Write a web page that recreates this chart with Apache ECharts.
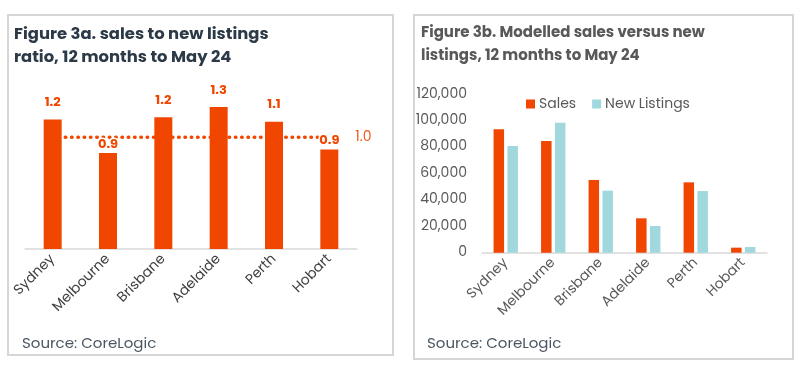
<!DOCTYPE html>
<html>
<head>
<meta charset="utf-8">
<script src="https://cdn.jsdelivr.net/npm/echarts@6/dist/echarts.min.js"></script>
<style>
  html, body { margin: 0; padding: 0; background: #ffffff; }
  #chart { width: 800px; height: 371px; }
</style>
</head>
<body>
<div id="chart"></div>
<script>
// ---- Data ----
const cities = ['Sydney', 'Melbourne', 'Brisbane', 'Adelaide', 'Perth', 'Hobart'];
const ratio = [1.16, 0.86, 1.18, 1.27, 1.14, 0.89];
const parity = [1.0, 1.0, 1.0, 1.0, 1.0, 1.0];
const sales = [93300, 84400, 55000, 26000, 53200, 3800];
const newListings = [80700, 98300, 46900, 20200, 46600, 4300];
const yTicksRight = [0, 20000, 40000, 60000, 80000, 100000, 120000];

const titleA = 'Figure 3a. sales to new listings\nratio, 12 months to May 24';
const titleB = 'Figure 3b. Modelled sales versus new\nlistings, 12 months to May 24';
const sourceText = 'Source: CoreLogic';

// ---- Styles ----
const FONT = 'Poppins, "Open Sans", sans-serif';
const ORANGE = '#F04600';
const TEAL = '#A0D8DE';
const GREY = '#595959';

const ratioData = ratio.map(v => ({
  value: v,
  label: { distance: v < parity[0] ? 2 : 10 }
}));

const chart = echarts.init(document.getElementById('chart'), null, { renderer: 'canvas' });

chart.setOption({
  backgroundColor: '#ffffff',
  animation: false,
  textStyle: { fontFamily: FONT },
  graphic: [
    { type: 'rect', shape: { x: 8, y: 15, width: 385, height: 340 },
      style: { fill: 'none', stroke: '#d6d6d6', lineWidth: 2 }, z: -1 },
    { type: 'rect', shape: { x: 414, y: 15, width: 379, height: 344 },
      style: { fill: 'none', stroke: '#d6d6d6', lineWidth: 2 }, z: -1 }
  ],
  title: [
    { text: titleA, left: 9, top: 18,
      textStyle: { fontFamily: FONT, fontSize: 16.4, fontWeight: 'bold', color: '#2c3a47', lineHeight: 23.5 } },
    { text: titleB, left: 416, top: 17,
      textStyle: { fontFamily: FONT, fontSize: 15, fontWeight: 'bold', color: GREY, lineHeight: 23 } },
    { text: sourceText, left: 17, top: 332,
      textStyle: { fontFamily: FONT, fontSize: 15, fontWeight: 'normal', color: '#4a5663' } },
    { text: sourceText, left: 422, top: 332,
      textStyle: { fontFamily: FONT, fontSize: 15, fontWeight: 'normal', color: '#4a5663' } }
  ],
  legend: {
    data: ['Sales', 'New Listings'],
    left: 521, top: 92,
    itemWidth: 9, itemHeight: 9, itemGap: 16,
    icon: 'rect',
    textStyle: { fontFamily: FONT, fontSize: 14, color: GREY, padding: [0, 0, 0, -1] }
  },
  grid: [
    { left: 25, top: 92.6, width: 332, height: 156.4 },
    { left: 482, top: 94, width: 285, height: 158.7 }
  ],
  xAxis: [
    { type: 'category', gridIndex: 0, data: cities,
      axisLine: { lineStyle: { color: '#d9d9d9', width: 1.5 } },
      axisTick: { show: false },
      axisLabel: { rotate: 45, margin: 8, fontSize: 14, color: '#404040', fontFamily: FONT, interval: 0 } },
    { type: 'category', gridIndex: 1, data: cities,
      axisLine: { lineStyle: { color: '#d9d9d9', width: 1.5 } },
      axisTick: { show: false },
      axisLabel: { rotate: 45, margin: 8, fontSize: 14, color: GREY, fontFamily: FONT, interval: 0 } }
  ],
  yAxis: [
    { type: 'value', gridIndex: 0, min: 0, max: 1.4, show: false, splitLine: { show: false } },
    { type: 'value', gridIndex: 1, min: yTicksRight[0], max: yTicksRight[yTicksRight.length - 1],
      interval: yTicksRight[1] - yTicksRight[0],
      axisLine: { show: false }, axisTick: { show: false }, splitLine: { show: false },
      axisLabel: { margin: 15, fontSize: 14, color: GREY, fontFamily: FONT,
        formatter: v => v.toLocaleString('en-US') } }
  ],
  series: [
    { name: 'Parity', type: 'line', xAxisIndex: 0, yAxisIndex: 0, data: parity,
      symbol: 'none', z: 1, silent: true,
      lineStyle: { color: ORANGE, width: 3.5, type: [0.5, 5.8], cap: 'round' },
      endLabel: { show: true, formatter: '1.0', distance: 26, color: '#F05A1E',
        fontSize: 14, fontFamily: FONT, fontWeight: 'normal' } },
    { name: 'Ratio', type: 'bar', xAxisIndex: 0, yAxisIndex: 0, data: ratioData,
      barWidth: 18, z: 3,
      itemStyle: { color: ORANGE },
      label: { show: true, position: 'top', fontSize: 13, fontWeight: 'bold', color: ORANGE,
        fontFamily: FONT, textBorderColor: '#ffffff', textBorderWidth: 3,
        formatter: p => p.value.toFixed(1) } },
    { name: 'Sales', type: 'bar', xAxisIndex: 1, yAxisIndex: 1, data: sales,
      barWidth: 10.5, barGap: '32%', itemStyle: { color: ORANGE } },
    { name: 'New Listings', type: 'bar', xAxisIndex: 1, yAxisIndex: 1, data: newListings,
      barWidth: 10.5, itemStyle: { color: TEAL } }
  ]
});
</script>
</body>
</html>
